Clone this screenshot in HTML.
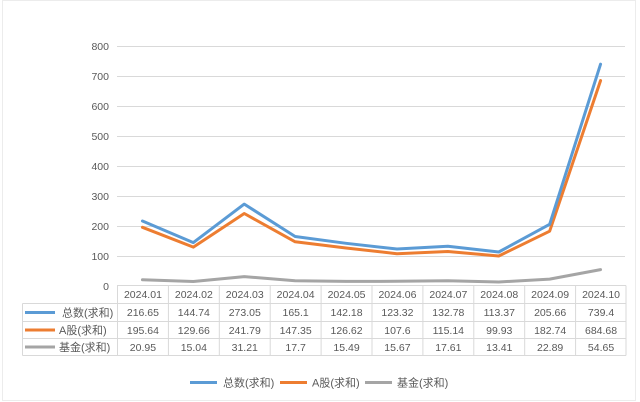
<!DOCTYPE html>
<html><head><meta charset="utf-8"><style>
html,body{margin:0;padding:0;background:#fff;}
svg{display:block;}
text{font-family:"Liberation Sans","Noto Sans CJK SC",sans-serif;fill:#595959;}
</style></head><body>
<svg width="640" height="402" viewBox="0 0 640 402" xmlns="http://www.w3.org/2000/svg">
<rect x="0" y="0" width="640" height="402" fill="#fff"/>
<rect x="2.5" y="0.5" width="633" height="400" fill="none" stroke="#ececec" stroke-width="1"/>
<!-- gridlines -->
<g stroke="#d9d9d9" stroke-width="1">
<line x1="117" y1="46.5" x2="625" y2="46.5"/>
<line x1="117" y1="76.5" x2="625" y2="76.5"/>
<line x1="117" y1="106.5" x2="625" y2="106.5"/>
<line x1="117" y1="136.5" x2="625" y2="136.5"/>
<line x1="117" y1="166.5" x2="625" y2="166.5"/>
<line x1="117" y1="196.5" x2="625" y2="196.5"/>
<line x1="117" y1="226.5" x2="625" y2="226.5"/>
<line x1="117" y1="256.5" x2="625" y2="256.5"/>
</g>
<!-- y tick labels -->
<g font-size="10.5" text-anchor="end">
<text x="109" y="50">800</text>
<text x="109" y="80">700</text>
<text x="109" y="110">600</text>
<text x="109" y="140">500</text>
<text x="109" y="170">400</text>
<text x="109" y="200">300</text>
<text x="109" y="230">200</text>
<text x="109" y="260">100</text>
<text x="109" y="290">0</text>
</g>
<!-- table -->
<g stroke="#d9d9d9" stroke-width="1" fill="none">
<line x1="117" y1="285.5" x2="626" y2="285.5"/>
<line x1="22.5" y1="303.5" x2="626" y2="303.5"/>
<line x1="22.5" y1="321.5" x2="626" y2="321.5"/>
<line x1="22.5" y1="338.5" x2="626" y2="338.5"/>
<line x1="22.5" y1="355.5" x2="626" y2="355.5"/>
<line x1="22.5" y1="303.5" x2="22.5" y2="355.5"/>
<line x1="117.5" y1="285.5" x2="117.5" y2="355.5"/>
<line x1="168.4" y1="285.5" x2="168.4" y2="355.5"/>
<line x1="219.3" y1="285.5" x2="219.3" y2="355.5"/>
<line x1="270.2" y1="285.5" x2="270.2" y2="355.5"/>
<line x1="321.1" y1="285.5" x2="321.1" y2="355.5"/>
<line x1="372.0" y1="285.5" x2="372.0" y2="355.5"/>
<line x1="422.9" y1="285.5" x2="422.9" y2="355.5"/>
<line x1="473.8" y1="285.5" x2="473.8" y2="355.5"/>
<line x1="524.7" y1="285.5" x2="524.7" y2="355.5"/>
<line x1="575.6" y1="285.5" x2="575.6" y2="355.5"/>
<line x1="626" y1="285.5" x2="626" y2="355.5"/>
</g>
<!-- series lines -->
<g fill="none" stroke-width="3" stroke-linejoin="round" stroke-linecap="round">
<polyline stroke="#a5a5a5" points="142.45,279.7 193.35,281.5 244.25,276.6 295.15,280.7 346.05,281.4 396.95,281.3 447.85,280.7 498.75,282.0 549.65,279.1 600.55,269.6"/>
<polyline stroke="#ed7d31" points="142.45,227.3 193.35,247.1 244.25,213.5 295.15,241.8 346.05,248.0 396.95,253.7 447.85,251.5 498.75,256.0 549.65,231.2 600.55,80.6"/>
<polyline stroke="#5b9bd5" points="142.45,221.0 193.35,242.6 244.25,204.1 295.15,236.5 346.05,243.3 396.95,249.0 447.85,246.2 498.75,252.0 549.65,224.3 600.55,64.2"/>
</g>
<!-- table text -->
<g font-size="10.5" text-anchor="middle">
<text x="142.95" y="298">2024.01</text>
<text x="193.85" y="298">2024.02</text>
<text x="244.75" y="298">2024.03</text>
<text x="295.65" y="298">2024.04</text>
<text x="346.55" y="298">2024.05</text>
<text x="397.45" y="298">2024.06</text>
<text x="448.35" y="298">2024.07</text>
<text x="499.25" y="298">2024.08</text>
<text x="550.15" y="298">2024.09</text>
<text x="601.05" y="298">2024.10</text>

<text x="142.95" y="316">216.65</text>
<text x="193.85" y="316">144.74</text>
<text x="244.75" y="316">273.05</text>
<text x="295.65" y="316">165.1</text>
<text x="346.55" y="316">142.18</text>
<text x="397.45" y="316">123.32</text>
<text x="448.35" y="316">132.78</text>
<text x="499.25" y="316">113.37</text>
<text x="550.15" y="316">205.66</text>
<text x="601.05" y="316">739.4</text>

<text x="142.95" y="334">195.64</text>
<text x="193.85" y="334">129.66</text>
<text x="244.75" y="334">241.79</text>
<text x="295.65" y="334">147.35</text>
<text x="346.55" y="334">126.62</text>
<text x="397.45" y="334">107.6</text>
<text x="448.35" y="334">115.14</text>
<text x="499.25" y="334">99.93</text>
<text x="550.15" y="334">182.74</text>
<text x="601.05" y="334">684.68</text>

<text x="142.95" y="351">20.95</text>
<text x="193.85" y="351">15.04</text>
<text x="244.75" y="351">31.21</text>
<text x="295.65" y="351">17.7</text>
<text x="346.55" y="351">15.49</text>
<text x="397.45" y="351">15.67</text>
<text x="448.35" y="351">17.61</text>
<text x="499.25" y="351">13.41</text>
<text x="550.15" y="351">22.89</text>
<text x="601.05" y="351">54.65</text>
</g>
<!-- table legend keys -->
<g stroke-width="3">
<line x1="25" y1="312.5" x2="55" y2="312.5" stroke="#5b9bd5"/>
<line x1="25" y1="330" x2="55" y2="330" stroke="#ed7d31"/>
<line x1="25" y1="347" x2="55" y2="347" stroke="#a5a5a5"/>
</g>
<g font-size="11">
<text x="62" y="316.5">总数(求和)</text>
<text x="59" y="334">A股(求和)</text>
<text x="59" y="351">基金(求和)</text>
</g>
<!-- bottom legend -->
<g stroke-width="3">
<line x1="190" y1="382.5" x2="217" y2="382.5" stroke="#5b9bd5"/>
<line x1="280" y1="382.5" x2="307" y2="382.5" stroke="#ed7d31"/>
<line x1="365" y1="382.5" x2="392" y2="382.5" stroke="#a5a5a5"/>
</g>
<g font-size="11">
<text x="223" y="386.5">总数(求和)</text>
<text x="312" y="386.5">A股(求和)</text>
<text x="397" y="386.5">基金(求和)</text>
</g>
</svg>
</body></html>
